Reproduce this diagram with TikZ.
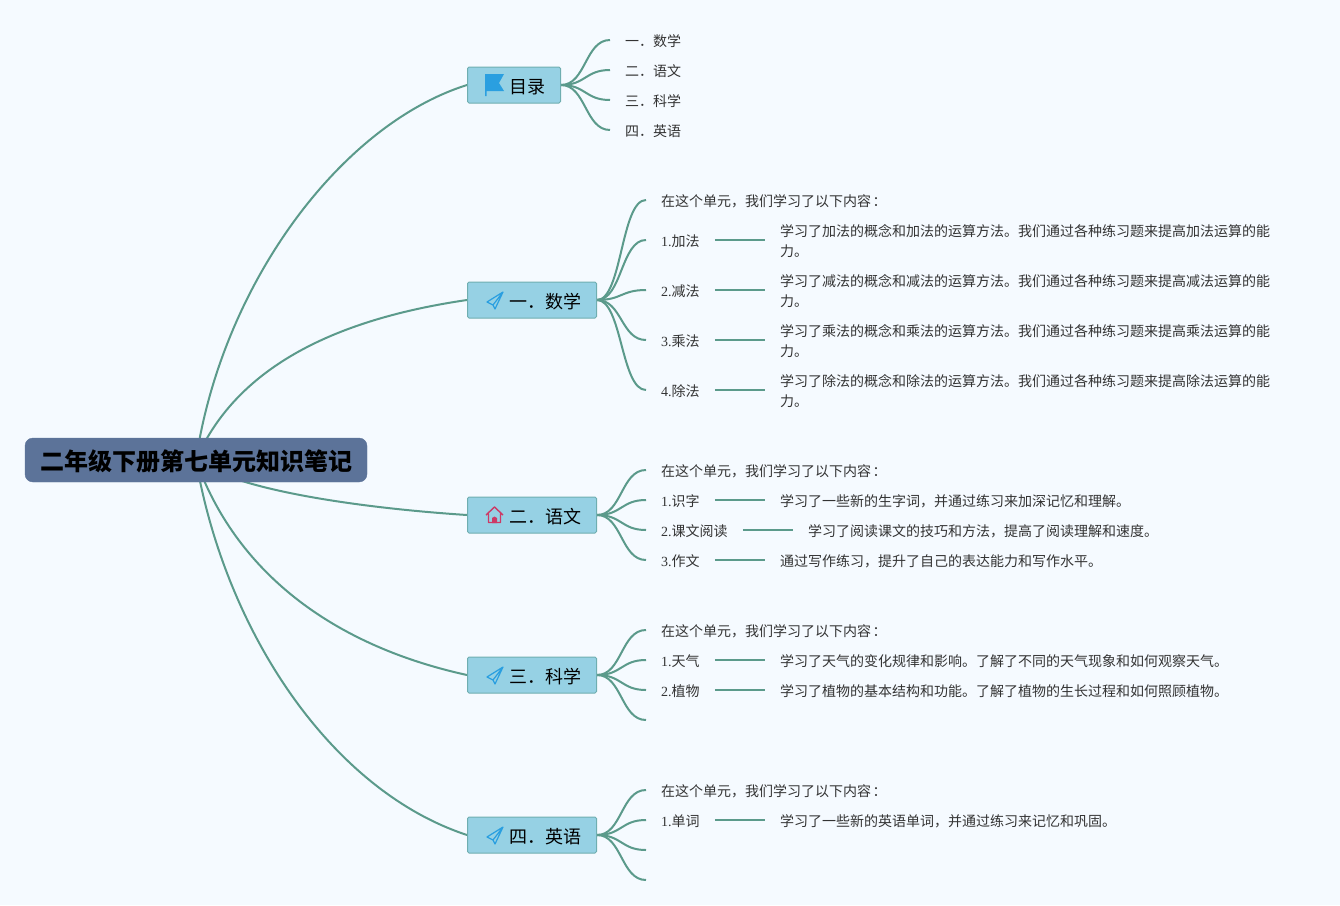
\documentclass[tikz,border=0pt]{standalone}
\usepackage{fontspec}
\setmainfont{Noto Sans CJK SC}
\newfontfamily\numfont{Liberation Serif}
\usetikzlibrary{backgrounds}
\definecolor{paper}{HTML}{F5FAFF}
\definecolor{rootfill}{HTML}{5C7399}
\definecolor{branchfill}{HTML}{96D1E4}
\definecolor{branchedge}{HTML}{6FAEB0}
\definecolor{linkcolor}{HTML}{5B9A8B}
\definecolor{planeblue}{HTML}{2A9FE0}
\definecolor{homered}{HTML}{CC3A66}
\newcommand{\num}[1]{{\numfont #1}}
\newcommand{\iconskip}{\hspace*{27pt}}
\newcommand{\introtext}{在这个单元，我们学习了以下内容\hspace*{1.5pt}：}
\tikzset{
  rootnode/.style={fill=rootfill, draw=rootfill, rounded corners=8pt, minimum height=44pt, minimum width=342pt, inner sep=0pt, text height=25pt, text depth=4pt, font=\fontsize{24}{24}\selectfont\bfseries},
  branch/.style={fill=branchfill, draw=branchedge, line width=1pt, rounded corners=1.5pt, anchor=west, minimum height=36pt, inner xsep=15pt, inner ysep=0pt, text height=20pt, text depth=3.4pt, font=\fontsize{18}{18}\selectfont},
  leaf/.style={anchor=west, inner xsep=15pt, inner ysep=2pt, text=black!80, text height=16pt, text depth=3.4pt, font=\fontsize{14}{20}\selectfont},
  detail/.style={anchor=west, inner xsep=15pt, inner ysep=2pt, text=black!80, align=left, font=\fontsize{14}{20}\selectfont},
  link/.style={draw=linkcolor, line width=2pt},
  rootlink/.style={draw=linkcolor, line width=2pt},
  planeicon/.pic={
    \draw[planeblue, line width=1.2pt, line join=round] (17,0) -- (1,10) -- (7,13) -- (9,17) -- (17,0) -- (7,13);
  },
  flagicon/.pic={
    \fill[planeblue] (0,0) -- (19,0) -- (14,9) -- (19,17) -- (1.5,17) -- (1.5,22) -- (0,22) -- cycle;
  },
  homeicon/.pic={
    \draw[homered, line width=1.4pt, line join=round] (0,8) -- (8.5,0) -- (17,8) (2.5,6.5) -- (2.5,15.5) -- (14.5,15.5) -- (14.5,6.5);
    \fill[homered] (6,16) -- (6,11) -- (8.5,9.5) -- (11,11) -- (11,16) -- cycle;
  }
}
\begin{document}
\begin{tikzpicture}[x=1pt, y=-1pt]
  \begin{scope}[on background layer]
    \fill[paper] (0,0) rectangle (1340,905);
  \end{scope}
  \useasboundingbox (0,0) rectangle (1340,905);
  % Root and branches
  \node[rootnode] (root) at (196,460) {二年级下册第七单元知识笔记};
  \node[branch] (toc) at (467,85) {\iconskip 目录};
  \node[branch] (math) at (467,300) {\iconskip 一．数学};
  \node[branch] (chinese) at (467,515) {\iconskip 二．语文};
  \node[branch] (science) at (467,675) {\iconskip 三．科学};
  \node[branch] (english) at (467,835) {\iconskip 四．英语};
  % Icons
  \pic at (485,74) {flagicon};
  \pic at (486,292) {planeicon};
  \pic at (486,507) {homeicon};
  \pic at (486,667) {planeicon};
  \pic at (486,827) {planeicon};
  % Contents
  \node[leaf] (tocA) at (610,40) {一．数学};
  \node[leaf] (tocB) at (610,70) {二．语文};
  \node[leaf] (tocC) at (610,100) {三．科学};
  \node[leaf] (tocD) at (610,130) {四．英语};
  % Math
  \node[leaf] (mathIntro) at (646,200) {\introtext};
  \node[leaf] (mathA) at (646,240) {\num{1.}加法};
  \node[leaf] (mathB) at (646,290) {\num{2.}减法};
  \node[leaf] (mathC) at (646,340) {\num{3.}乘法};
  \node[leaf] (mathD) at (646,390) {\num{4.}除法};
  \node[detail] (mathAtext) at (765,241) {学习了加法的概念和加法的运算方法。我们通过各种练习题来提高加法运算的能\\力。};
  \node[detail] (mathBtext) at (765,291) {学习了减法的概念和减法的运算方法。我们通过各种练习题来提高减法运算的能\\力。};
  \node[detail] (mathCtext) at (765,341) {学习了乘法的概念和乘法的运算方法。我们通过各种练习题来提高乘法运算的能\\力。};
  \node[detail] (mathDtext) at (765,391) {学习了除法的概念和除法的运算方法。我们通过各种练习题来提高除法运算的能\\力。};
  % Chinese
  \node[leaf] (chineseIntro) at (646,470) {\introtext};
  \node[leaf] (chineseA) at (646,500) {\num{1.}识字};
  \node[leaf] (chineseB) at (646,530) {\num{2.}课文阅读};
  \node[leaf] (chineseC) at (646,560) {\num{3.}作文};
  \node[detail] (chineseAtext) at (765,501) {学习了一些新的生字词，并通过练习来加深记忆和理解。};
  \node[detail] (chineseBtext) at (793,531) {学习了阅读课文的技巧和方法，提高了阅读理解和速度。};
  \node[detail] (chineseCtext) at (765,561) {通过写作练习，提升了自己的表达能力和写作水平。};
  % Science
  \node[leaf] (scienceIntro) at (646,630) {\introtext};
  \node[leaf] (scienceA) at (646,660) {\num{1.}天气};
  \node[leaf] (scienceB) at (646,690) {\num{2.}植物};
  \coordinate (scienceC) at (646,720);
  \node[detail] (scienceAtext) at (765,661) {学习了天气的变化规律和影响。了解了不同的天气现象和如何观察天气。};
  \node[detail] (scienceBtext) at (765,691) {学习了植物的基本结构和功能。了解了植物的生长过程和如何照顾植物。};
  % English
  \node[leaf] (englishIntro) at (646,790) {\introtext};
  \node[leaf] (englishA) at (646,820) {\num{1.}单词};
  \coordinate (englishB) at (646,850);
  \coordinate (englishC) at (646,880);
  \node[detail] (englishAtext) at (765,821) {学习了一些新的英语单词，并通过练习来记忆和巩固。};
  % Links
  \begin{scope}[on background layer]
    \draw[rootlink] (root.center) .. controls (222,285) and (340,125) .. (toc.west);
    \draw[rootlink] (root.center) .. controls (235,370) and (330,320) .. (math.west);
    \draw[rootlink] (root.center) .. controls (235,490) and (360,508) .. (chinese.west);
    \draw[rootlink] (root.center) .. controls (235,570) and (330,645) .. (science.west);
    \draw[rootlink] (root.center) .. controls (225,630) and (330,790) .. (english.west);
    \foreach \a/\b in {toc/tocA, toc/tocB, toc/tocC, toc/tocD,
      math/mathIntro, math/mathA, math/mathB, math/mathC, math/mathD,
      chinese/chineseIntro, chinese/chineseA, chinese/chineseB, chinese/chineseC,
      science/scienceIntro, science/scienceA, science/scienceB, science/scienceC,
      english/englishIntro, english/englishA, english/englishB, english/englishC}
      \draw[link] (\a.east) .. controls +(25,0) and +(-25,0) .. (\b.west);
    \foreach \b in {mathA, mathB, mathC, mathD, chineseA, chineseB, chineseC, scienceA, scienceB, englishA}
      \draw[link] (\b.east) -- (\b.east -| \b text.west);
  \end{scope}
\end{tikzpicture}
\end{document}
